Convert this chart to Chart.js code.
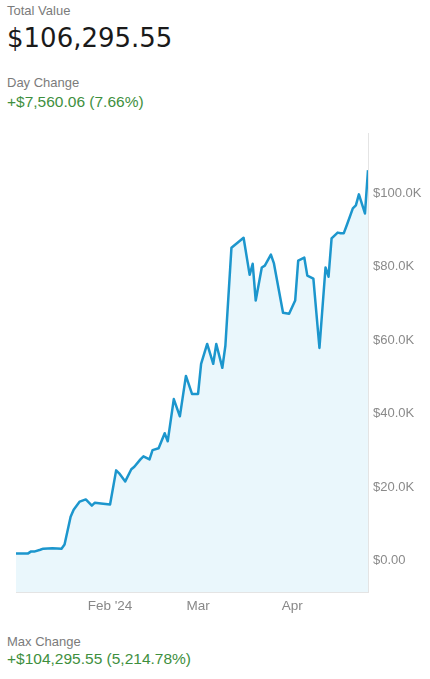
<!DOCTYPE html>
<html>
<head>
<meta charset="utf-8">
<script src="https://cdn.jsdelivr.net/npm/chart.js@4.4.1/dist/chart.umd.min.js"></script>
<style>
  body { margin: 0; background: #fff; width: 430px; height: 679px; overflow: hidden; position: relative;
         font-family: "Liberation Sans", Arial, Helvetica, sans-serif; }
  .t { position: absolute; left: 7px; line-height: 1; white-space: nowrap; }
  .cap { color: #7b7b7b; font-size: 13px; }
  .big { color: #1a1a1a; font-size: 26px; font-family: "DejaVu Sans", sans-serif; }
  .green { color: #3e8f3e; font-size: 15.5px; }
  #wrap { position: absolute; left: 0; top: 132px; width: 430px; height: 490px; }
</style>
</head>
<body>
<div class="t cap" style="top:4px">Total Value</div>
<div class="t big" style="top:25px">$106,295.55</div>
<div class="t cap" style="top:76px">Day Change</div>
<div class="t green" style="top:94px">+$7,560.06 (7.66%)</div>

<div id="wrap"><canvas id="chart" width="430" height="490"></canvas></div>

<div class="t cap" style="top:635px">Max Change</div>
<div class="t green" style="top:651px">+$104,295.55 (5,214.78%)</div>

<script>
// portfolio value by date
var dates = [
  "2024-01-01", "2024-01-05", "2024-01-06", "2024-01-07", "2024-01-09", "2024-01-10",
  "2024-01-13", "2024-01-16", "2024-01-17", "2024-01-19", "2024-01-20", "2024-01-22",
  "2024-01-24", "2024-01-26", "2024-01-27", "2024-01-29", "2024-02-01", "2024-02-03",
  "2024-02-04", "2024-02-06", "2024-02-08", "2024-02-09", "2024-02-11", "2024-02-12",
  "2024-02-14", "2024-02-15", "2024-02-17", "2024-02-19", "2024-02-20", "2024-02-22",
  "2024-02-24", "2024-02-26", "2024-02-28", "2024-03-01", "2024-03-02", "2024-03-04",
  "2024-03-06", "2024-03-07", "2024-03-09", "2024-03-10", "2024-03-12", "2024-03-16",
  "2024-03-18", "2024-03-19", "2024-03-20", "2024-03-22", "2024-03-23", "2024-03-25",
  "2024-03-26", "2024-03-29", "2024-03-31", "2024-04-02", "2024-04-03", "2024-04-05",
  "2024-04-06", "2024-04-08", "2024-04-10", "2024-04-12", "2024-04-13", "2024-04-14",
  "2024-04-16", "2024-04-17", "2024-04-18", "2024-04-19", "2024-04-21", "2024-04-22",
  "2024-04-23", "2024-04-25", "2024-04-26"
];
var values = [
  2000, 2000, 2550, 2500, 3000, 3300,
  3400, 3300, 4400, 12000, 13900, 16100,
  16700, 15000, 15800, 15600, 15300, 24600,
  23800, 21600, 24900, 25600, 27600, 28400,
  27600, 30100, 30600, 34700, 32500, 44000,
  39300, 50300, 45400, 45400, 53600, 59000,
  53600, 59000, 52500, 58500, 85200, 87900,
  77800, 80800, 70800, 79800, 80300, 83300,
  80900, 67500, 67200, 70800, 81700, 82500,
  77600, 76800, 57900, 79800, 77300, 87700,
  89300, 89100, 89100, 91300, 95900, 96700,
  99700, 94500, 106295.55
];

var xTickDates = ["2024-02-01", "2024-03-01", "2024-04-01"];
var xTickLabels = ["Feb '24", "Mar", "Apr"];
var yTicks = [0, 20000, 40000, 60000, 80000, 100000];
var yTickLabels = ["$0.00", "$20.0K", "$40.0K", "$60.0K", "$80.0K", "$100.0K"];

var start = Date.UTC(2024, 0, 1);
function dayOf(s) {
  var p = s.split("-");
  return (Date.UTC(+p[0], +p[1] - 1, +p[2]) - start) / 86400000;
}

var points = dates.map(function(d, i) { return { x: dayOf(d), y: values[i] }; });
var xTickDays = xTickDates.map(dayOf);

new Chart(document.getElementById("chart"), {
  type: "line",
  data: {
    datasets: [{
      data: points,
      borderColor: "#1c96cd",
      borderWidth: 2.5,
      borderJoinStyle: "round",
      backgroundColor: "#eaf7fc",
      fill: "start",
      pointRadius: 0,
      tension: 0
    }]
  },
  options: {
    responsive: false,
    animation: false,
    devicePixelRatio: 1,
    layout: { padding: { left: 16, top: 1, right: 0, bottom: 0 } },
    plugins: { legend: { display: false }, tooltip: { enabled: false } },
    scales: {
      x: {
        type: "linear",
        min: 0,
        max: points[points.length - 1].x,
        grid: { display: false, drawTicks: false },
        border: { display: true, color: "#e4e4e4" },
        afterBuildTicks: function(a) { a.ticks = xTickDays.map(function(v) { return { value: v }; }); },
        afterFit: function(a) { a.height = 30; a.paddingLeft = 0; a.paddingRight = 0; },
        ticks: {
          autoSkip: false,
          maxRotation: 0,
          padding: 6,
          color: "#888",
          font: { size: 13.5, family: "Liberation Sans" },
          callback: function(v, i) { return xTickLabels[i]; }
        }
      },
      y: {
        position: "right",
        min: -8500,
        max: 116400,
        grid: { display: false, drawTicks: false },
        border: { display: true, color: "#e4e4e4" },
        afterBuildTicks: function(a) { a.ticks = yTicks.map(function(v) { return { value: v }; }); },
        afterFit: function(a) { a.width = 62; a.paddingTop = 0; a.paddingBottom = 0; },
        ticks: {
          padding: 5,
          color: "#8a8a8a",
          font: { size: 13, family: "Liberation Sans" },
          callback: function(v, i) { return yTickLabels[i]; }
        }
      }
    }
  }
});
</script>
</body>
</html>
